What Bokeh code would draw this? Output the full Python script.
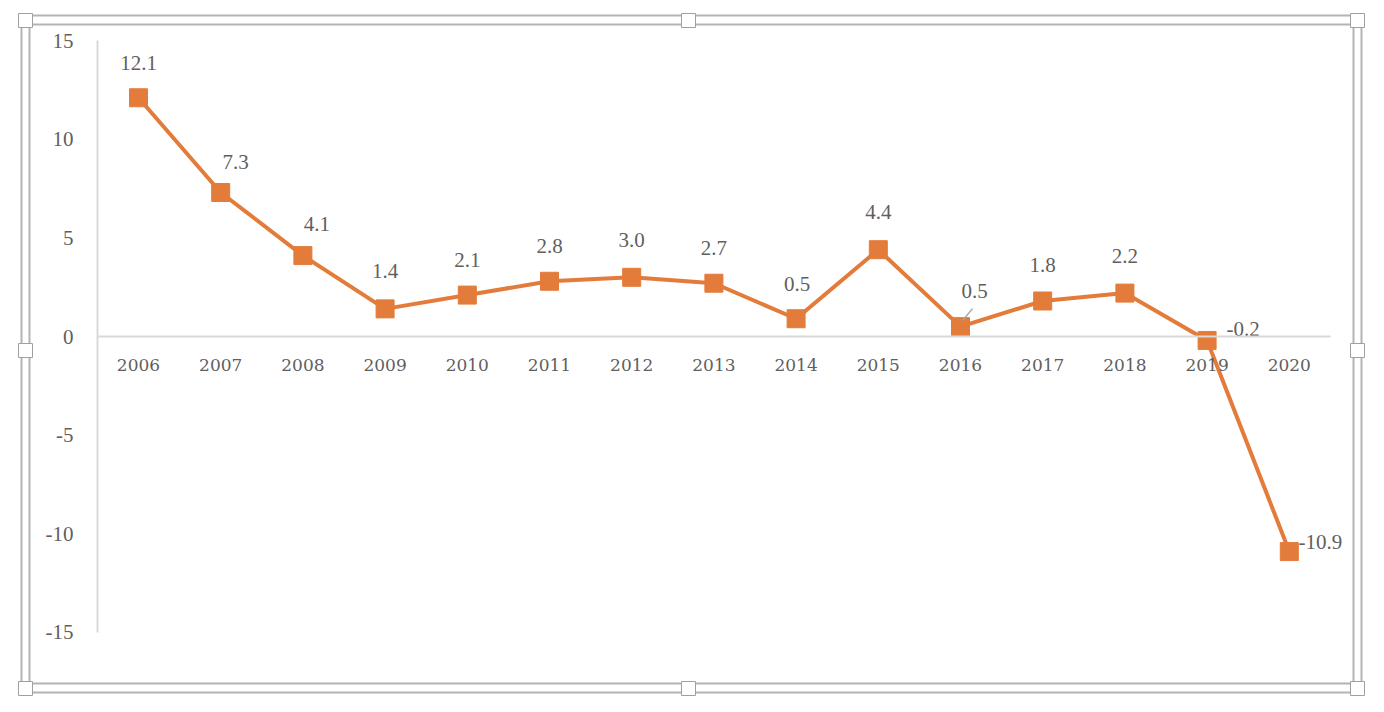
from bokeh.plotting import figure
from bokeh.models import ColumnDataSource, BoxAnnotation, FixedTicker, Range1d
from bokeh.embed import file_html
from bokeh.resources import INLINE
from bokeh.core.properties import value

# ---- data ----
years = ["2006", "2007", "2008", "2009", "2010", "2011", "2012", "2013",
         "2014", "2015", "2016", "2017", "2018", "2019", "2020"]
values = [12.1, 7.3, 4.1, 1.4, 2.1, 2.8, 3.0, 2.7, 0.9, 4.4, 0.5, 1.8, 2.2, -0.2, -10.9]
labels = ["12.1", "7.3", "4.1", "1.4", "2.1", "2.8", "3.0", "2.7",
          "0.5", "4.4", "0.5", "1.8", "2.2", "-0.2", "-10.9"]
y_ticks = [-15, -10, -5, 0, 5, 10, 15]
y_tick_labels = ["-15", "-10", "-5", "0", "5", "10", "15"]

# label offsets in pixels (style only)
label_dx = [0, 15, 14, 0, 0, 0, 0, 0, 1, 0, 14, 0, 0, 36, 31]
label_dy = [-35, -30, -32, -38, -35, -35, -37, -35, -35, -38, -36, -36, -37, -11, -10]

W, H = 1376, 704
ORANGE = "#E37C3B"
GRAY_TXT = "#5f5f5f"
FONT = "Liberation Serif"

idx = list(range(len(years)))
src = ColumnDataSource(dict(x=idx, y=values, lab=labels, dx=label_dx, dy=label_dy))

# pixel -> data scale (frame covers the canvas)
px_per_x = 82.2
px_per_y = 19.73
x0_px = 138.0   # canvas x of first year
y0_px = 336.0   # canvas y of zero

p = figure(width=W, height=H, output_backend="svg", toolbar_location=None,
           x_range=Range1d(-x0_px / px_per_x, (W - x0_px) / px_per_x),
           y_range=Range1d(-(H - y0_px) / px_per_y, y0_px / px_per_y),
           min_border=0, outline_line_color=None)
p.grid.visible = False
p.background_fill_color = "white"
p.border_fill_color = "white"

# axes
xa = p.xaxis[0]
xa.fixed_location = 0
xa.bounds = (-0.5, len(years) - 0.5)
xa.ticker = FixedTicker(ticks=idx)
xa.major_label_overrides = {i: y for i, y in enumerate(years)}
xa.axis_line_color = "#d9d9d9"
xa.axis_line_width = 2
xa.major_tick_line_color = None
xa.minor_tick_line_color = None
xa.major_label_text_font = "DejaVu Serif"
xa.major_label_text_font_size = "17px"
xa.major_label_text_color = GRAY_TXT
xa.major_label_standoff = 16

ya = p.yaxis[0]
ya.fixed_location = -0.5
ya.bounds = (-15, 15)
ya.ticker = FixedTicker(ticks=y_ticks)
ya.major_label_overrides = {t: s for t, s in zip(y_ticks, y_tick_labels)}
ya.axis_line_color = "#d9d9d9"
ya.axis_line_width = 2
ya.major_tick_line_color = None
ya.minor_tick_line_color = None
ya.major_label_text_font = FONT
ya.major_label_text_font_size = "21px"
ya.major_label_text_color = GRAY_TXT
ya.major_label_standoff = 18

# series
p.line("x", "y", source=src, line_color=ORANGE, line_width=4)
p.scatter("x", "y", source=src, marker="square", size=18,
          fill_color=ORANGE, line_color=ORANGE)

# leader line for 2016 label
i16 = years.index("2016")
p.segment(x0=[i16 + 2 / px_per_x], y0=[values[i16] + 6 / px_per_y],
          x1=[i16 + 12 / px_per_x], y1=[values[i16] + 18 / px_per_y],
          line_color="#a6a6a6", line_width=1.5)

p.text("x", "y", text="lab", source=src, x_offset="dx", y_offset="dy",
       text_align="center", text_baseline="middle",
       text_font=value(FONT), text_font_size="21px", text_color=GRAY_TXT)

# selection frame (double border + handles)
for (l, r, t, b) in [(21, 1361, 15, 692), (29, 1353, 24, 683)]:
    p.add_layout(BoxAnnotation(left=l, right=r, top=t, bottom=b,
                               left_units="canvas", right_units="canvas",
                               top_units="canvas", bottom_units="canvas",
                               fill_color=None, line_color="#b4b4b4",
                               line_alpha=1.0, line_width=2))
hx = [25, 688, 1357]
hy = [20, 350, 688]
for cx in hx:
    for cy in hy:
        if cx == 688 and cy == 350:
            continue
        p.add_layout(BoxAnnotation(left=cx - 7, right=cx + 7, top=cy - 7, bottom=cy + 7,
                                   left_units="canvas", right_units="canvas",
                                   top_units="canvas", bottom_units="canvas",
                                   fill_color="white", fill_alpha=1.0,
                                   line_color="#a0a0a0", line_alpha=1.0, line_width=1))

open("out.html", "w").write(file_html(p, INLINE))
